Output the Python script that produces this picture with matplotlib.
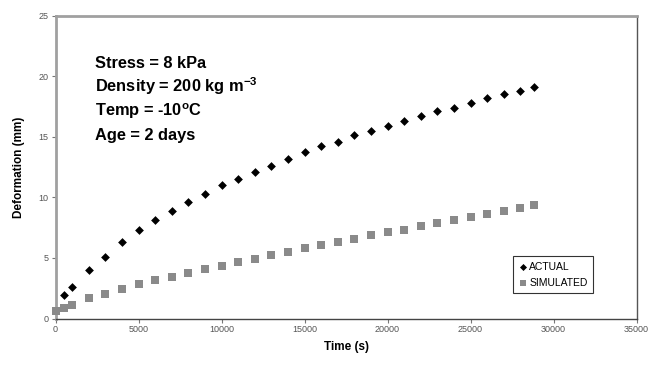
import matplotlib.pyplot as plt

plt.rcParams['font.family'] = ['Liberation Sans', 'DejaVu Sans']
plt.rcParams['mathtext.fontset'] = 'custom'
plt.rcParams['mathtext.rm'] = 'Liberation Sans:bold'
plt.rcParams['mathtext.bf'] = 'Liberation Sans:bold'
plt.rcParams['mathtext.it'] = 'Liberation Sans:bold'

# ACTUAL measurements
actual_t = [500, 1000, 2000, 3000, 4000, 5000, 6000, 7000, 8000, 9000, 10000,
            11000, 12000, 13000, 14000, 15000, 16000, 17000, 18000, 19000, 20000,
            21000, 22000, 23000, 24000, 25000, 26000, 27000, 28000, 28800]
actual_d = [1.9, 2.6, 4.0, 5.1, 6.3, 7.3, 8.1, 8.9, 9.6, 10.3, 11.0,
            11.5, 12.1, 12.6, 13.2, 13.7, 14.2, 14.6, 15.1, 15.5, 15.9,
            16.3, 16.7, 17.1, 17.4, 17.8, 18.2, 18.5, 18.8, 19.1]

# SIMULATED
sim_t = [0, 500, 1000, 2000, 3000, 4000, 5000, 6000, 7000, 8000, 9000, 10000,
         11000, 12000, 13000, 14000, 15000, 16000, 17000, 18000, 19000, 20000,
         21000, 22000, 23000, 24000, 25000, 26000, 27000, 28000, 28800]
sim_d = [0.63, 0.9, 1.15, 1.67, 2.05, 2.43, 2.82, 3.15, 3.45, 3.78, 4.08, 4.36,
         4.65, 4.9, 5.23, 5.5, 5.78, 6.08, 6.35, 6.6, 6.88, 7.1,
         7.34, 7.65, 7.86, 8.11, 8.41, 8.66, 8.9, 9.15, 9.37]

x_ticks = [0, 5000, 10000, 15000, 20000, 25000, 30000, 35000]
y_ticks = [0, 5, 10, 15, 20, 25]

fig = plt.figure(figsize=(6.68, 3.65), dpi=100)
ax = fig.add_axes([55.5 / 668, 1 - 318.5 / 365, 581 / 668, 303 / 365])

ax.scatter(actual_t, actual_d, marker='D', s=20, color='black', linewidths=0,
           label='ACTUAL', zorder=3, clip_on=False)
ax.scatter(sim_t, sim_d, marker='s', s=32, color='#8a8a8a', linewidths=0,
           label='SIMULATED', zorder=3, clip_on=False)

ax.set_xlim(0, 35000)
ax.set_ylim(0, 25)
ax.set_xticks(x_ticks)
ax.set_yticks(y_ticks)
ax.tick_params(axis='both', labelsize=6.5, labelcolor='#555555', color='#777777',
               length=3, width=0.8, direction='out', pad=2)

ax.spines['left'].set_color('#a0a0a0')
ax.spines['left'].set_linewidth(2.0)
ax.spines['top'].set_color('#a0a0a0')
ax.spines['top'].set_linewidth(2.0)
ax.spines['right'].set_color('#555555')
ax.spines['right'].set_linewidth(1.0)
ax.spines['bottom'].set_color('#444444')
ax.spines['bottom'].set_linewidth(1.0)

ax.set_xlabel('Time (s)', fontsize=8.5, fontweight='bold', labelpad=5)
ax.set_ylabel('Deformation (mm)', fontsize=8.5, fontweight='bold', labelpad=10)

lines = ['Stress = 8 kPa',
         r'Density = 200 kg m$^{-3}$',
         r'Temp = -10$^{o}$C',
         'Age = 2 days']
for i, s in enumerate(lines):
    fig.text(95 / 668, 1 - (67.5 + i * 24.3) / 365, s, fontsize=11.8,
             fontweight='bold', va='baseline', ha='left')

leg = ax.legend(loc='lower right', bbox_to_anchor=(593 / 668, 1 - 293 / 365),
                bbox_transform=fig.transFigure, fontsize=7.5, frameon=True,
                fancybox=False, edgecolor='black', handletextpad=0.1,
                handlelength=1.0, borderpad=0.5, labelspacing=0.6,
                markerscale=0.8, borderaxespad=0)
leg.get_frame().set_linewidth(0.8)

fig.savefig('out.png', dpi=100)
